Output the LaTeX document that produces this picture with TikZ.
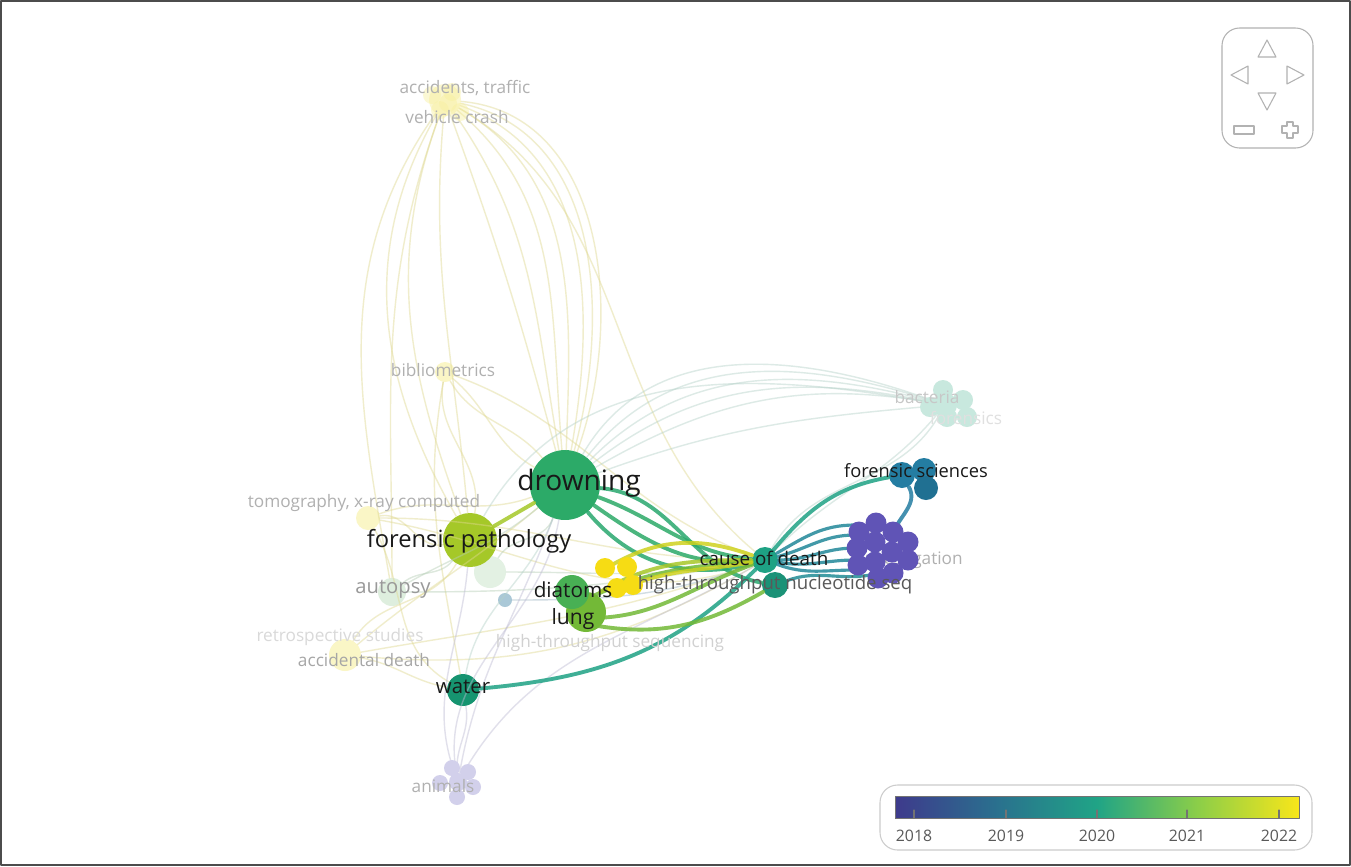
\documentclass[tikz,border=0pt]{standalone}
\usepackage{fontspec}
\setmainfont{Open Sans}
\definecolor{cDrown}{RGB}{44,170,104}
\definecolor{cPath}{RGB}{165,200,40}
\definecolor{cLung}{RGB}{115,185,55}
\definecolor{cWater}{RGB}{22,148,112}
\definecolor{cCause}{RGB}{30,162,132}
\definecolor{cSci}{RGB}{36,125,162}
\definecolor{cPurple}{RGB}{96,84,182}
\definecolor{cYellow}{RGB}{246,220,20}
\definecolor{cFaint}{RGB}{176,176,176}
\definecolor{cPaleY}{RGB}{248,240,160}
\definecolor{cPaleG}{RGB}{200,228,200}
\definecolor{cPaleT}{RGB}{200,232,222}
\definecolor{cPaleP}{RGB}{210,208,235}
\definecolor{cPaleB}{RGB}{170,200,215}
\definecolor{vA}{RGB}{62,58,140}
\definecolor{vB}{RGB}{42,112,142}
\definecolor{vC}{RGB}{32,164,134}
\definecolor{vD}{RGB}{140,206,72}
\definecolor{vE}{RGB}{248,230,26}
\pgfdeclarehorizontalshading{viridis}{100bp}{color(0bp)=(vA); color(25bp)=(vA); color(37.5bp)=(vB); color(50bp)=(vC); color(62.5bp)=(vD); color(75bp)=(vE); color(100bp)=(vE)}
\tikzset{
  bub/.style={circle,inner sep=0pt,minimum size=#1*0.04cm},
  lbl/.style={inner sep=0pt,text=black!90},
  faintlbl/.style={inner sep=0pt,text=cFaint,font=\fontsize{9.8}{11}\selectfont},
  edge/.style={line width=2.2pt,line cap=round,opacity=0.85},
  thin edge/.style={line width=0.8pt,opacity=0.45},
  navline/.style={draw=black!30,line width=0.6pt,line join=round}
}
\begin{document}
\begin{tikzpicture}[x=0.02cm,y=-0.02cm,line join=round,line cap=round]
\useasboundingbox (0,0) rectangle (1351,866);
\fill[white] (0,0) rectangle (1351,866);
\draw[black!70,line width=0.6pt] (1,1) rectangle (1350,865);

% faint nodes
\node[bub=16,fill=cPaleY,opacity=0.5] (accid) at (445,100) {};
\node[bub=10,fill=cPaleY,opacity=0.6] (biblio) at (445,372) {};
\node[bub=12,fill=cPaleY,opacity=0.6] (tomo) at (368,518) {};
\node[bub=14,fill=cPaleG,opacity=0.6] (autopsy) at (392,592) {};
\node[bub=16,fill=cPaleY,opacity=0.6] (retro) at (345,655) {};
\node[bub=16,fill=cPaleG,opacity=0.5] (postm) at (490,572) {};
\node[bub=7,fill=cPaleB] (hts) at (505,600) {};
\node[bub=12,fill=cPaleT] (bact) at (945,405) {};
\node[bub=9,fill=cPaleP] (animals) at (458,782) {};

% main nodes
\node[bub=35,fill=cDrown] (drown) at (565,485) {};
\node[bub=27,fill=cPath] (path) at (470,540) {};
\node[bub=13,fill=cCause] (cause) at (765,560) {};
\node[bub=13,fill=cCause!90!black] (nucl) at (775,585) {};
\node[bub=16,fill=cWater] (water) at (463,690) {};
\node[bub=13,fill=cSci] (sci) at (902,475) {};

% faint connectors
\foreach \a/\b/\o/\i/\c in {
  accid/drown/-20/80/cPaleY, accid/drown/-5/70/cPaleY, accid/drown/-40/95/cPaleY,
  accid/drown/-12/75/cPaleY, accid/drown/-30/88/cPaleY, accid/drown/-55/100/cPaleY,
  accid/path/-110/110/cPaleY, accid/path/-95/95/cPaleY, accid/autopsy/-125/100/cPaleY,
  accid/path/-120/120/cPaleY, accid/autopsy/-110/90/cPaleY,
  accid/drown/-70/105/cPaleY, accid/cause/-30/140/cPaleY,
  biblio/drown/-40/150/cPaleY, biblio/path/-100/80/cPaleY, biblio/cause/-20/160/cPaleY,
  biblio/drown/-60/130/cPaleY, biblio/water/-100/100/cPaleY,
  tomo/drown/20/200/cPaleY, tomo/cause/0/180/cPaleY, tomo/path/10/190/cPaleY,
  tomo/cause/-10/200/cPaleY, tomo/water/-60/150/cPaleY,
  retro/drown/40/220/cPaleY, retro/path/60/240/cPaleY, retro/water/-10/170/cPaleY,
  retro/cause/10/200/cPaleY, retro/cause/-5/210/cPaleY,
  autopsy/drown/30/220/cPaleG, autopsy/cause/0/190/cPaleG, autopsy/path/40/230/cPaleG,
  postm/cause/0/190/cPaleG, postm/drown/60/250/cPaleG, hts/cause/0/200/cPaleB,
  drown/bact/60/160/cPaleT, drown/bact/45/165/cPaleT, drown/bact/30/170/cPaleT,
  drown/bact/20/185/cPaleT, drown/bact/52/162/cPaleT, drown/bact/38/168/cPaleT,
  path/bact/60/170/cPaleT, cause/bact/60/-120/cPaleT, cause/bact/45/-130/cPaleT,
  animals/water/95/-80/cPaleP, animals/drown/100/-100/cPaleP, animals/path/110/-95/cPaleP,
  animals/cause/60/-150/cPaleP, animals/drown/80/-110/cPaleP, water/drown/80/-110/cPaleT}
  \draw[thin edge,draw=\c!90!black] (\a) to[out=\o,in=\i] (\b);

% pale cluster circles
\foreach \x/\y in {943/390,963/400,930/407,947/417,967/417}
  \fill[cPaleT] (\x,\y) circle (10);
\foreach \x/\y in {452/768,468/772,440/783,473/787,457/797}
  \fill[cPaleP] (\x,\y) circle (8);
\foreach \x/\y in {432/95,452/92,440/110,460/112,448/103}
  \fill[cPaleY,opacity=0.45] (\x,\y) circle (9);

% strong connectors
\draw[edge,cPath] (path) -- (drown);
\draw[edge,cDrown] (drown) to[out=-20,in=175] (cause);
\draw[edge,cDrown] (drown) to[out=-35,in=185] (cause);
\draw[edge,cDrown!80!cCause] (drown) to[out=-50,in=195] (cause);
\draw[edge,cDrown!80!cCause] (drown) to[out=-5,in=170] (nucl);
\draw[edge,cCause] (water) to[out=5,in=225] (cause);
\draw[edge,cCause] (cause) to[out=50,in=190] (sci);
\draw[edge,cSci] (sci) to[out=-60,in=70] (892,535);
\draw[edge,cLung] (584,600) to[out=25,in=185] (cause);
\draw[edge,cLung] (590,618) to[out=0,in=200] (cause);
\draw[edge,cLung] (592,625) to[out=-10,in=210] (nucl);
\draw[edge,cLung!60!cYellow] (600,592) to[out=30,in=180] (cause);
\draw[edge,cYellow!70!cLung] (610,566) to[out=30,in=160] (cause);
\draw[edge,cYellow!70!cLung] (630,585) to[out=20,in=190] (cause);
\foreach \y/\o in {525/30,535/15,548/0,560/-10,570/-20}
  \draw[edge,cSci!70!cCause,line width=1.8pt] (cause) to[out=\o,in=180] (855,\y);
\draw[edge,cSci!60!cCause,line width=1.8pt] (nucl) to[out=20,in=190] (870,575);

% diatoms, lung and yellow cluster
\node[bub=20,fill=cLung] (lung) at (586,612) {};
\node[bub=17,fill=cDrown!60!cLung] (diat) at (572,592) {};
\foreach \x/\y in {605/568,627/567,617/588,633/585}
  \fill[cYellow] (\x,\y) circle (10);
\fill[cSci] (924,470) circle (12);
\fill[cSci!90!black] (926,488) circle (12);

% faint label hidden by purple cluster
\node[faintlbl,anchor=east] (invest) at (963,560) {investigation};

% purple cluster
\foreach \x/\y in {876/523,893/532,859/532,908/542,875/542,857/548,892/552,908/560,875/562,858/565,893/573,878/578}
  \fill[cPurple] (\x,\y) circle (10.5);

% labels
\node[lbl,font=\fontsize{16}{18}\selectfont] (drownL) at (579,483) {drowning};
\node[lbl,font=\fontsize{13.5}{15}\selectfont] (pathL) at (469,541) {forensic pathology};
\node[lbl,font=\fontsize{11.8}{13}\selectfont] (diatL) at (573,590) {diatoms};
\node[lbl,font=\fontsize{12}{13}\selectfont] (lungL) at (573,619) {lung};
\node[lbl,font=\fontsize{11.6}{13}\selectfont] (waterL) at (463,687) {water};
\node[lbl,font=\fontsize{10.7}{12}\selectfont] (causeL) at (764,558) {cause of death};
\node[lbl,text=black!65,font=\fontsize{10.6}{12}\selectfont] (nuclL) at (775,585) {high-throughput nucleotide seq};
\node[lbl,font=\fontsize{10.4}{12}\selectfont] (sciL) at (916,471) {forensic sciences};
\node[faintlbl] (accidL) at (465,88) {accidents, traffic};
\node[faintlbl] (vehL) at (457,117) {vehicle crash};
\node[faintlbl] (biblioL) at (443,370) {bibliometrics};
\node[faintlbl] (tomoL) at (364,503) {tomography, x-ray computed};
\node[faintlbl,text=black!40,font=\fontsize{11.5}{13}\selectfont] (autopsyL) at (393,589) {autopsy};
\node[faintlbl,text=black!15] (retroL) at (340,637) {retrospective studies};
\node[faintlbl,text=black!35] (accdL) at (364,660) {accidental death};
\node[faintlbl,text=black!18] (htsL) at (610,643) {high-throughput sequencing};
\node[faintlbl] (animalsL) at (443,786) {animals};
\node[faintlbl,text=black!22] (bactL) at (927,397) {bacteria};
\node[faintlbl,text=black!12] (forL) at (966,418) {forensics};

% navigation control
\draw[navline,rounded corners=10] (1222,28) rectangle (1313,148);
\draw[navline] (1258,57) -- (1267,40) -- (1276,57) -- cycle;
\draw[navline] (1248,66) -- (1231,75) -- (1248,84) -- cycle;
\draw[navline] (1287,66) -- (1304,75) -- (1287,84) -- cycle;
\draw[navline] (1258,93) -- (1267,110) -- (1276,93) -- cycle;
\draw[navline] (1234,126) rectangle (1254,134);
\draw[navline] (1287,122) -- (1293,122) -- (1293,126) -- (1298,126) -- (1298,133) -- (1293,133) -- (1293,138) -- (1287,138) -- (1287,133) -- (1282,133) -- (1282,126) -- (1287,126) -- cycle;

% colour scale
\draw[black!20,rounded corners=10,line width=0.6pt] (880,785) rectangle (1312,850);
\shade[shading=viridis,draw=black!55,line width=0.5pt] (895,796) rectangle (1299,818);
\foreach \x/\yr in {914/2018,1006/2019,1097/2020,1187/2021,1279/2022} {
  \draw[black!55,line width=0.6pt] (\x,810) -- (\x,818);
  \node[text=black!65,font=\fontsize{9}{10}\selectfont,inner sep=0pt] (yr\yr) at (\x,836) {\yr};
}
\end{tikzpicture}
\end{document}
